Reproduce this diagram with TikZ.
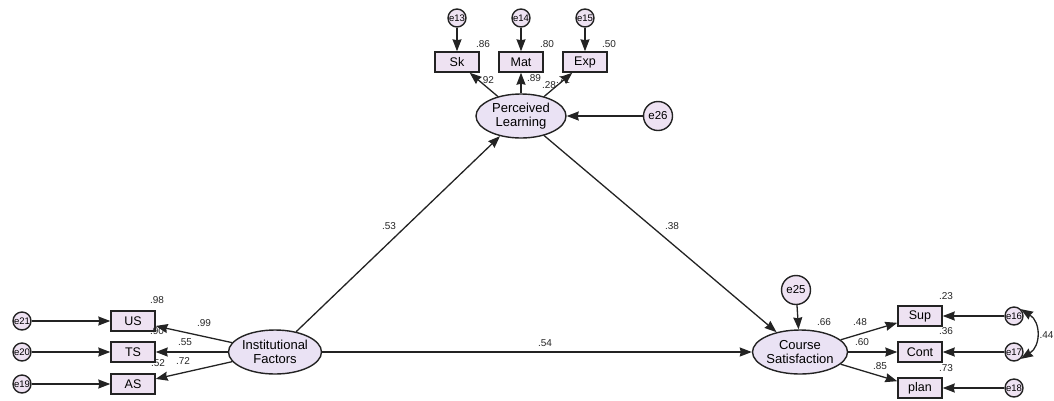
\documentclass[tikz,border=0pt]{standalone}
\usepackage{fontspec}
\setmainfont{Liberation Sans}
\usetikzlibrary{arrows.meta,shapes.geometric}
\definecolor{boxfill}{RGB}{238,226,242}
\definecolor{latfill}{RGB}{234,226,244}
\definecolor{linegray}{RGB}{35,35,35}
\tikzset{
  obs/.style={draw=linegray,fill=boxfill,line width=1.4pt,minimum width=44pt,minimum height=20pt,inner sep=0pt,font=\fontsize{12.5}{13}\selectfont},
  lat/.style={ellipse,draw=linegray,fill=latfill,line width=1.4pt,minimum width=90pt,minimum height=44pt,inner sep=0pt,align=center,font=\fontsize{13}{13.5}\selectfont},
  errs/.style={circle,draw=linegray,fill=boxfill,line width=1.4pt,minimum size=18pt,inner sep=0pt,font=\fontsize{9.5}{9.5}\selectfont},
  errb/.style={circle,draw=linegray,fill=boxfill,line width=1.4pt,minimum size=29pt,inner sep=0pt,font=\fontsize{11.5}{11.5}\selectfont},
  path/.style={draw=linegray,line width=1.3pt,-{Stealth[length=12pt,width=9pt,inset=1pt]}},
  lbl/.style={font=\fontsize{10}{10}\selectfont,inner sep=0pt,text=black!85}
}
\begin{document}
\begin{tikzpicture}[x=1pt,y=-1pt]
\useasboundingbox (0,0) rectangle (1054,400);

% latent variables
\node[lat] (PL) at (521,116) {Perceived\\Learning};
\node[lat] (IF) at (275,352) {Institutional\\Factors};
\node[lat] (CS) at (800,352) {Course\\Satisfaction};

% indicators of Perceived Learning
\node[obs] (Sk)  at (457,62) {Sk};
\node[obs] (Mat) at (521,62) {Mat};
\node[obs] (Exp) at (585,62) {Exp};
\node[errs] (e13) at (457,18) {e13};
\node[errs] (e14) at (521,18) {e14};
\node[errs] (e15) at (585,18) {e15};

% indicators of Institutional Factors
\node[obs] (US) at (133,321) {US};
\node[obs] (TS) at (133,352) {TS};
\node[obs] (AS) at (133,384) {AS};
\node[errs] (e21) at (22,321) {e21};
\node[errs] (e20) at (22,352) {e20};
\node[errs] (e19) at (22,384) {e19};

% indicators of Course Satisfaction
\node[obs] (Sup)  at (920,316) {Sup};
\node[obs] (Cont) at (920,352) {Cont};
\node[obs] (plan) at (920,388) {plan};
\node[errs] (e16) at (1014,316) {e16};
\node[errs] (e17) at (1014,352) {e17};
\node[errs] (e18) at (1014,388) {e18};

% disturbances
\node[errb] (e26) at (658,116) {e26};
\node[errb] (e25) at (796,290) {e25};

% structural paths
\draw[path] (IF) -- (PL);
\draw[path] (PL) -- (CS);
\draw[path] (IF) -- (CS);
\draw[path] (e26) -- (PL);
\draw[path] (e25) -- (CS);

% measurement paths
\draw[path] (PL) -- (Sk);
\draw[path] (PL) -- (Mat);
\draw[path] (PL) -- (Exp);
\draw[path] (e13) -- (Sk);
\draw[path] (e14) -- (Mat);
\draw[path] (e15) -- (Exp);

\draw[path] (IF) -- (US);
\draw[path] (IF) -- (TS);
\draw[path] (IF) -- (AS);
\draw[path] (e21) -- (US);
\draw[path] (e20) -- (TS);
\draw[path] (e19) -- (AS);

\draw[path] (CS) -- (Sup);
\draw[path] (CS) -- (Cont);
\draw[path] (CS) -- (plan);
\draw[path] (e16) -- (Sup);
\draw[path] (e17) -- (Cont);
\draw[path] (e18) -- (plan);

% error covariance
\draw[draw=linegray,line width=1.3pt,{Stealth[length=12pt,width=9pt,inset=1pt]}-{Stealth[length=12pt,width=9pt,inset=1pt]}]
  (e16.north east) .. controls (1041,322) and (1041,346) .. (e17.south east);

% estimates
\node[lbl] (l86) at (483,44) {.86};
\node[lbl] (l80) at (547,44) {.80};
\node[lbl] (l50) at (609,44) {.50};
\node[lbl] (l92) at (487,80) {.92};
\node[lbl] (l89) at (534,78) {.89};
\node[lbl] (l28) at (549,85) {.28};
\node[lbl] (l71) at (563,80) {.71};
\node[lbl] (l53) at (389,226) {.53};
\node[lbl] (l38) at (672,226) {.38};
\node[lbl] (l54) at (545,343) {.54};
\node[lbl] (l98) at (157,300) {.98};
\node[lbl] (l99) at (204,323) {.99};
\node[lbl] (l90) at (157,331) {.90};
\node[lbl] (l55) at (185,342) {.55};
\node[lbl] (l52) at (158,363) {.52};
\node[lbl] (l72) at (183,361) {.72};
\node[lbl] (l66) at (824,322) {.66};
\node[lbl] (l48) at (860,322) {.48};
\node[lbl] (l60) at (862,342) {.60};
\node[lbl] (l85) at (880,366) {.85};
\node[lbl] (l23) at (946,296) {.23};
\node[lbl] (l36) at (946,331) {.36};
\node[lbl] (l73) at (946,368) {.73};
\node[lbl] (l44) at (1046.5,335) {.44};
\end{tikzpicture}
\end{document}
